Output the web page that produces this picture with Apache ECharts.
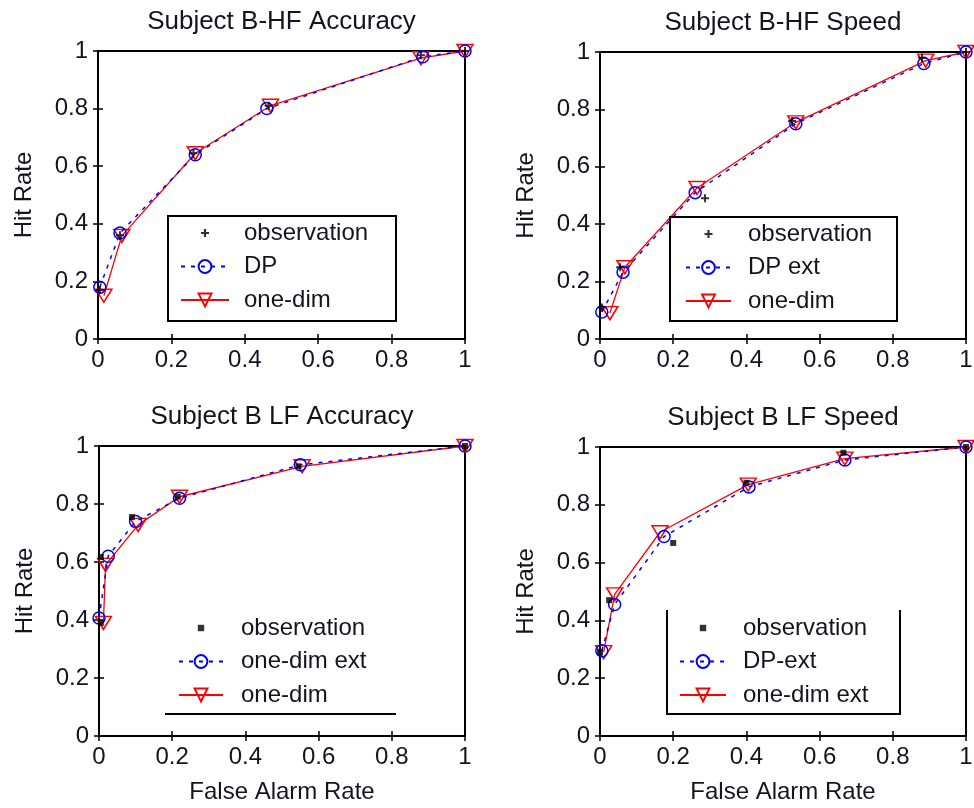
<!DOCTYPE html>
<html>
<head>
<meta charset="utf-8">
<script src="https://cdn.jsdelivr.net/npm/echarts@6/dist/echarts.min.js"></script>
<style>
  html, body { margin: 0; padding: 0; background: #fff; }
  #chart { width: 974px; height: 808px; }
</style>
</head>
<body>
<div id="chart"></div>
<script>
// ROC curves: hit rate vs. false alarm rate, [falseAlarm, hit] pairs
const titles = ['Subject B-HF Accuracy', 'Subject B-HF Speed', 'Subject B LF Accuracy', 'Subject B LF Speed'];
const xTitle = 'False Alarm Rate';
const yTitle = 'Hit Rate';
const tickValues = [0, 0.2, 0.4, 0.6, 0.8, 1];

// B-HF Accuracy
const hfAccObs   = [[0.005, 0.17], [0.06, 0.36], [0.26, 0.645], [0.465, 0.81], [0.88, 0.985], [1, 1]];
const hfAccDP    = [[0.005, 0.18], [0.06, 0.368], [0.265, 0.64], [0.46, 0.80], [0.885, 0.98], [1, 1]];
const hfAccOne   = [[0.016, 0.15], [0.065, 0.358], [0.265, 0.645], [0.47, 0.81], [0.88, 0.975], [1, 1]];

// B-HF Speed
const hfSpdObs   = [[0.005, 0.11], [0.055, 0.25], [0.287, 0.49], [0.525, 0.76], [0.88, 0.98], [1, 1]];
const hfSpdDP    = [[0.005, 0.094], [0.063, 0.233], [0.26, 0.51], [0.535, 0.75], [0.885, 0.96], [1, 1]];
const hfSpdOne   = [[0.027, 0.09], [0.068, 0.25], [0.265, 0.526], [0.535, 0.755], [0.89, 0.97], [1, 1]];

// B LF Accuracy
const lfAccObs   = [[0.005, 0.39], [0.005, 0.617], [0.09, 0.755], [0.215, 0.825], [0.545, 0.93], [1, 1]];
const lfAccExt   = [[0.0, 0.407], [0.025, 0.62], [0.1, 0.74], [0.22, 0.82], [0.55, 0.935], [1, 1]];
const lfAccOne   = [[0.012, 0.39], [0.018, 0.59], [0.107, 0.728], [0.22, 0.825], [0.555, 0.93], [1, 1]];

// B LF Speed
const lfSpdObs   = [[0.0, 0.29], [0.025, 0.47], [0.2, 0.668], [0.4, 0.876], [0.665, 0.98], [1, 1]];
const lfSpdDP    = [[0.005, 0.295], [0.04, 0.455], [0.175, 0.69], [0.407, 0.862], [0.669, 0.955], [1, 1]];
const lfSpdOne   = [[0.01, 0.29], [0.04, 0.49], [0.164, 0.705], [0.405, 0.87], [0.669, 0.96], [1, 1]];

const legendLabels = [
  ['observation', 'DP', 'one-dim'],
  ['observation', 'DP ext', 'one-dim'],
  ['observation', 'one-dim ext', 'one-dim'],
  ['observation', 'DP-ext', 'one-dim ext']
];

const FONT = '"Liberation Sans", Arial, sans-serif';
const TXT = '#141420';
const RED = '#ff0000';
const BLUE = '#0000ff';

const grids = [
  { left: 98,  top: 51,  width: 367, height: 288 },
  { left: 600, top: 52,  width: 366, height: 287 },
  { left: 99,  top: 446, width: 366, height: 290 },
  { left: 600, top: 447, width: 366, height: 289 }
];

const panelData = [
  { obs: hfAccObs, blue: hfAccDP,  red: hfAccOne, obsSym: 'plus' },
  { obs: hfSpdObs, blue: hfSpdDP,  red: hfSpdOne, obsSym: 'plus' },
  { obs: lfAccObs, blue: lfAccExt, red: lfAccOne, obsSym: 'dot' },
  { obs: lfSpdObs, blue: lfSpdDP,  red: lfSpdOne, obsSym: 'dot' }
];

const legendPos = [
  { left: 180, top: 221, itemWidth: 48, pad: 10 },
  { left: 685, top: 222, itemWidth: 45, pad: 12 },
  { left: 178, top: 616, itemWidth: 44, pad: 13 },
  { left: 679, top: 616, itemWidth: 46, pad: 12 }
];

const LEGEND_H = 16;
const PLUS = 'path://M3,0H5V3H8V5H5V8H3V5H0V3H3Z';

// small marker centred in a w x h legend cell (the leading moves set the extent)
function plusIcon(w, h) {
  const cx = w / 2, cy = h / 2, a = 4, t = 1.1;
  return 'path://M0,0M' + w + ',' + h +
    'M' + (cx - t) + ',' + (cy - a) + 'H' + (cx + t) + 'V' + (cy - t) + 'H' + (cx + a) +
    'V' + (cy + t) + 'H' + (cx + t) + 'V' + (cy + a) + 'H' + (cx - t) + 'V' + (cy + t) +
    'H' + (cx - a) + 'V' + (cy - t) + 'H' + (cx - t) + 'Z';
}
function dotIcon(w, h) {
  const cx = w / 2, cy = h / 2, a = 3.2;
  return 'path://M0,0M' + w + ',' + h +
    'M' + (cx - a) + ',' + (cy - a) + 'H' + (cx + a) + 'V' + (cy + a) + 'H' + (cx - a) + 'Z';
}

const xAxes = [], yAxes = [], series = [], legends = [];

const tickCommon = {
  show: true, inside: true, length: 5,
  lineStyle: { color: '#000', width: 1.5 }
};

grids.forEach((g, i) => {
  const isBottomRow = i >= 2;
  // bottom x axis with labels
  xAxes.push({
    gridIndex: i, type: 'value', min: 0, max: 1, interval: 0.2, position: 'bottom',
    name: isBottomRow ? xTitle : '', nameLocation: 'middle', nameGap: 44,
    nameTextStyle: { fontFamily: FONT, fontSize: 24, color: TXT },
    axisLine: { show: false }, splitLine: { show: false },
    axisTick: tickCommon,
    axisLabel: { fontFamily: FONT, fontSize: 24, color: TXT, margin: 9,
      formatter: v => tickValues.includes(+v.toFixed(1)) ? String(+v.toFixed(1)) : '' }
  });
  // top x axis carrying the panel title and the upper ticks
  xAxes.push({
    gridIndex: i, type: 'value', min: 0, max: 1, interval: 0.2, position: 'top',
    name: titles[i], nameLocation: 'middle', nameGap: 16,
    nameTextStyle: { fontFamily: FONT, fontSize: 26, color: TXT },
    axisLine: { show: false }, splitLine: { show: false },
    axisTick: tickCommon, axisLabel: { show: false }
  });
  yAxes.push({
    gridIndex: i, type: 'value', min: 0, max: 1, interval: 0.2, position: 'left',
    name: yTitle, nameLocation: 'middle', nameGap: 62, nameRotate: 90,
    nameTextStyle: { fontFamily: FONT, fontSize: 24, color: TXT },
    axisLine: { show: false }, splitLine: { show: false },
    axisTick: tickCommon,
    axisLabel: { fontFamily: FONT, fontSize: 24, color: TXT, margin: 10,
      formatter: v => String(+v.toFixed(1)) }
  });
  yAxes.push({
    gridIndex: i, type: 'value', min: 0, max: 1, interval: 0.2, position: 'right',
    axisLine: { show: false }, splitLine: { show: false },
    axisTick: tickCommon, axisLabel: { show: false }
  });

  const d = panelData[i];
  const labels = legendLabels[i];
  const key = 'p' + i + '|';
  const xi = 2 * i, yi = 2 * i;

  series.push({
    name: key + labels[2], type: 'line', xAxisIndex: xi, yAxisIndex: yi, data: d.red,
    symbol: 'triangle', symbolRotate: 180, symbolSize: [16, 13],
    itemStyle: { color: 'rgba(0,0,0,0)', borderColor: RED, borderWidth: 1.5 },
    lineStyle: { color: RED, width: 1.3, type: 'solid' },
    z: 2
  });
  series.push({
    name: key + labels[1], type: 'line', xAxisIndex: xi, yAxisIndex: yi, data: d.blue,
    symbol: 'circle', symbolSize: 12,
    itemStyle: { color: 'rgba(0,0,0,0)', borderColor: BLUE, borderWidth: 1.5 },
    lineStyle: { color: BLUE, width: 1.5, type: [4, 6] },
    z: 3
  });
  series.push({
    name: key + labels[0], type: 'scatter', xAxisIndex: xi, yAxisIndex: yi, data: d.obs,
    symbol: d.obsSym === 'plus' ? PLUS : 'rect',
    symbolSize: d.obsSym === 'plus' ? 8 : 6,
    itemStyle: { color: '#000' },
    z: 4
  });

  const lp = legendPos[i];
  const obsIcon = d.obsSym === 'plus' ? plusIcon(lp.itemWidth, LEGEND_H) : dotIcon(lp.itemWidth, LEGEND_H);
  legends.push({
    orient: 'vertical', left: lp.left, top: lp.top, padding: 0,
    itemWidth: lp.itemWidth, itemHeight: LEGEND_H, itemGap: 9.5,
    data: [
      { name: key + labels[0], icon: obsIcon },
      key + labels[1],
      key + labels[2]
    ],
    formatter: n => n.split('|')[1],
    textStyle: { fontFamily: FONT, fontSize: 24, color: TXT, padding: [0, 0, 0, lp.pad] },
    selectedMode: false, z: 6
  });
});

const chart = echarts.init(document.getElementById('chart'), null, { renderer: 'canvas' });
chart.setOption({
  animation: false,
  backgroundColor: '#fff',
  grid: grids.map(g => Object.assign({
    show: true, borderColor: '#000', borderWidth: 2, backgroundColor: 'transparent',
    containLabel: false, outerBoundsMode: 'none'
  }, g)),
  xAxis: xAxes,
  yAxis: yAxes,
  legend: legends,
  series: series,
  graphic: [
    // legend frames
    { type: 'rect', z: 5, shape: { x: 168, y: 216, width: 228, height: 105 },
      style: { fill: '#fff', stroke: '#000', lineWidth: 2 } },
    { type: 'rect', z: 5, shape: { x: 670, y: 217, width: 227, height: 104 },
      style: { fill: '#fff', stroke: '#000', lineWidth: 2 } },
    { type: 'line', z: 5, shape: { x1: 165, y1: 714, x2: 396, y2: 714 },
      style: { stroke: '#000', lineWidth: 2 } },
    { type: 'polyline', z: 5, shape: { points: [[667, 610], [667, 714], [900, 714], [900, 610]] },
      style: { fill: null, stroke: '#000', lineWidth: 2 } }
  ]
});
</script>
</body>
</html>
